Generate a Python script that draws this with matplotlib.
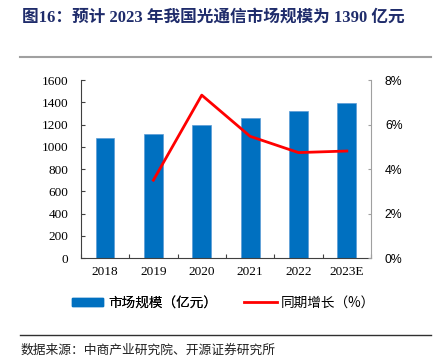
import matplotlib
matplotlib.use("Agg")
import matplotlib.pyplot as plt
from matplotlib.lines import Line2D
from matplotlib.patches import Patch
from matplotlib.ticker import FixedLocator, FuncFormatter

# data
years = ["2018", "2019", "2020", "2021", "2022", "2023E"]
market = [1075, 1115, 1198, 1262, 1325, 1390]   # 亿元
growth = [None, 3.5, 7.32, 5.47, 4.74, 4.81]    # %
left_ticks = [0, 200, 400, 600, 800, 1000, 1200, 1400, 1600]
right_ticks = [0, 2, 4, 6, 8]

serif = ["Liberation Serif", "Noto Sans CJK SC"]
sans = ["Liberation Sans", "Noto Sans CJK SC"]
cjk = ["Noto Sans CJK SC", "DejaVu Sans"]

W, H = 437, 362
fig = plt.figure(figsize=(W / 100, H / 100), dpi=100)
ax = fig.add_axes([0.185, 0.287, 0.664, 0.492])
ax2 = ax.twinx()

x = list(range(len(years)))
ax.bar(x, market, width=0.39, color="#0070C0", edgecolor="#5B9BD5", linewidth=0.5, zorder=2)
gx = [i for i, g in zip(x, growth) if g is not None]
gy = [g for g in growth if g is not None]
ax2.plot(gx, gy, color="#FF0000", linewidth=2.0, zorder=3)

ax.set_xlim(-0.5, len(years) - 0.5)
ax.set_ylim(0, 1600)
ax2.set_ylim(0, 8)

ax.set_yticks(left_ticks)
ax.set_yticklabels([str(v) for v in left_ticks], fontfamily=serif, fontsize=9.5)
ax.tick_params(axis="y", direction="in", length=3, width=0.8, color="#404040", pad=9)

ax2.set_yticks(right_ticks)
ax2.yaxis.set_major_formatter(FuncFormatter(lambda v, p: f"{int(v)}%"))
for lab in ax2.get_yticklabels():
    lab.set_fontfamily(sans)
    lab.set_fontsize(8.8)
ax2.tick_params(axis="y", direction="in", length=2, width=0.8, color="#A0A0A0", pad=10)

ax.set_xticks(x)
ax.set_xticklabels(years, fontfamily=serif, fontsize=9.5)
ax.tick_params(axis="x", which="major", length=0, pad=6)
ax.xaxis.set_minor_locator(FixedLocator([i + 0.5 for i in range(-1, len(years))]))
ax.tick_params(axis="x", which="minor", direction="in", length=3, width=0.8, color="#404040")

for a in (ax, ax2):
    a.spines["top"].set_visible(False)
ax.spines["right"].set_visible(False)
ax2.spines["left"].set_visible(False)
ax2.spines["bottom"].set_visible(False)
ax.spines["left"].set_color("#404040")
ax.spines["bottom"].set_color("#404040")
ax2.spines["right"].set_color("#A0A0A0")

# title and rules
fig.text(22 / W, 1 - 18 / H, "图16：预计 2023 年我国光通信市场规模为 1390 亿元",
         fontfamily=serif, fontweight="bold", fontsize=12, color="#1F2C6B",
         ha="left", va="center")
fig.add_artist(Line2D([20 / W, 431 / W], [1 - 57 / H] * 2, color="#A0A0A0", linewidth=1.5))
fig.add_artist(Line2D([20 / W, 431 / W], [1 - 335 / H] * 2, color="#303030", linewidth=1.0))

# legend, two entries placed separately
leg_y = 1 - 303 / H
leg1 = fig.legend([Patch(facecolor="#0070C0", edgecolor="#0070C0")], ["市场规模（亿元）"],
                  loc="center left", bbox_to_anchor=(72 / W, leg_y), frameon=False,
                  borderpad=0, borderaxespad=0, prop={"family": cjk, "size": 9.8},
                  handlelength=2.3, handleheight=0.5, handletextpad=0.35)
fig.add_artist(leg1)
fig.legend([Line2D([], [], color="#FF0000", linewidth=2.0)], ["同期增长（%）"],
           loc="center left", bbox_to_anchor=(244 / W, leg_y), frameon=False,
           borderpad=0, borderaxespad=0, prop={"family": cjk, "size": 9.8},
           handlelength=2.4, handletextpad=0.3)

fig.text(21 / W, 1 - 350 / H, "数据来源：中商产业研究院、开源证券研究所",
         fontfamily=cjk, fontsize=9.2, color="#202020", ha="left", va="center")

fig.savefig("out.png", dpi=100)
